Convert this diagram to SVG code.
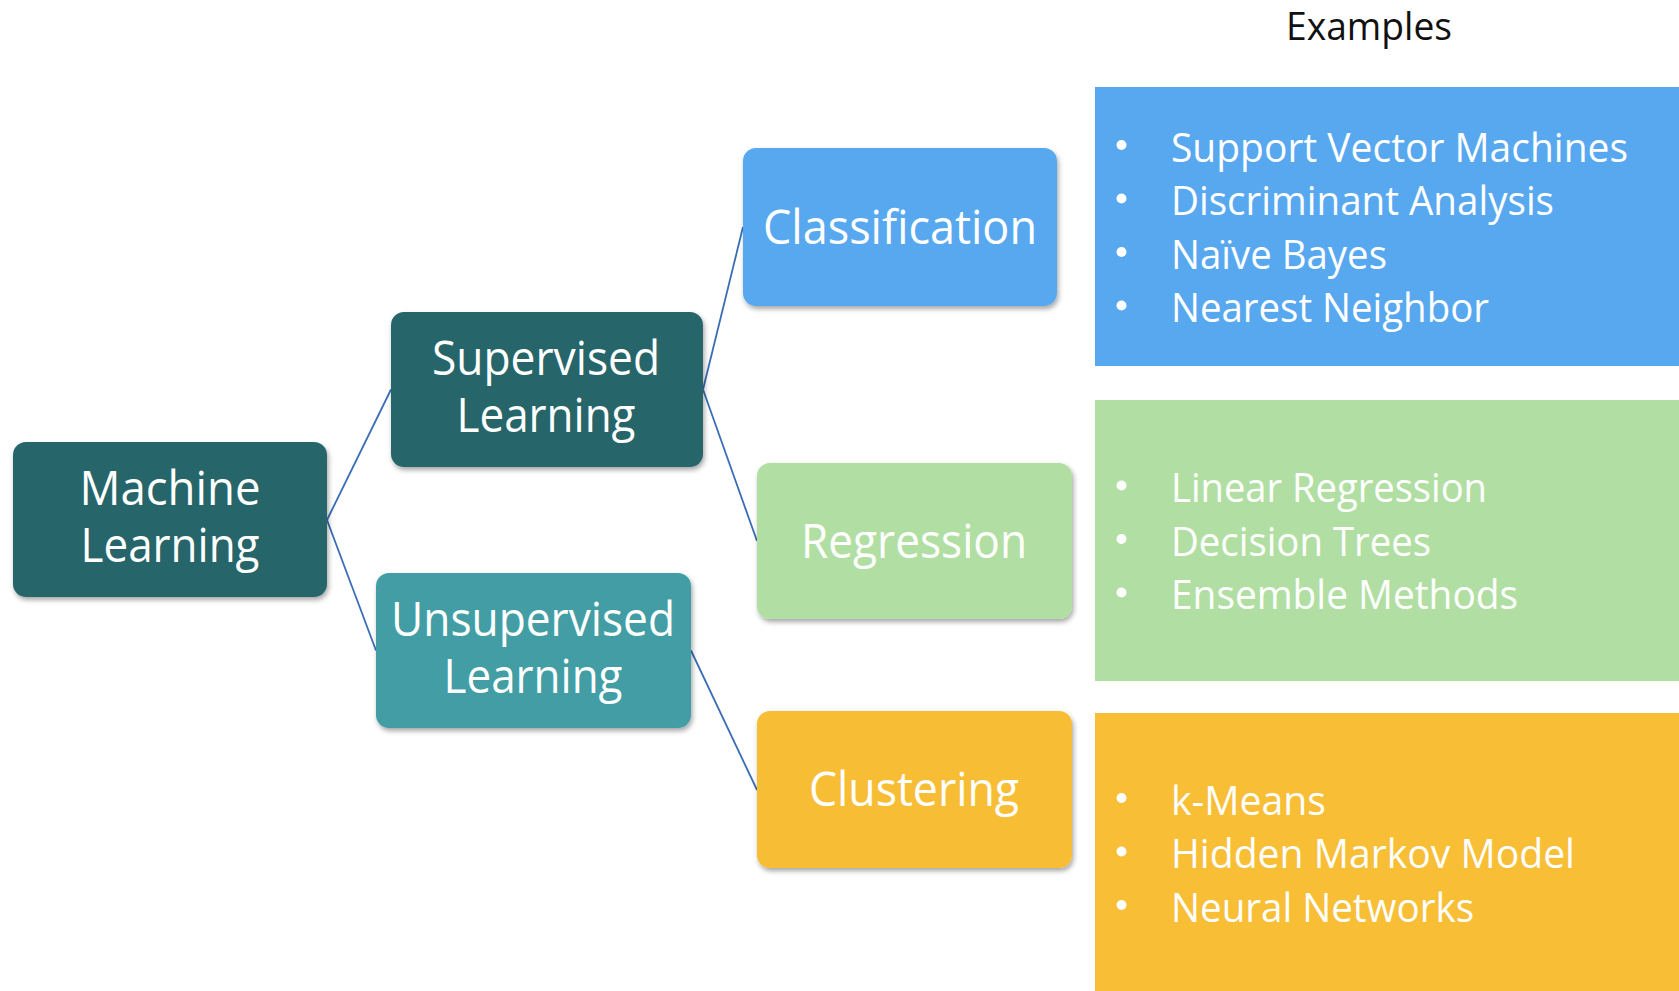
<svg xmlns="http://www.w3.org/2000/svg" width="1679" height="991" viewBox="0 0 1679 991">
  <defs>
    <filter id="shadow" x="-10%" y="-10%" width="125%" height="135%">
      <feDropShadow dx="1.5" dy="3" stdDeviation="2.5" flood-color="#000" flood-opacity="0.35"/>
    </filter>
    <style>
      .node { filter: url(#shadow); }
      .lbl { font-family: "Open Sans", "Liberation Sans", sans-serif; font-size: 48px; fill: #ffffff; text-anchor: middle; }
      .item { font-family: "Open Sans", "Liberation Sans", sans-serif; font-size: 41px; fill: #ffffff; }
      .title { font-family: "Open Sans", "Liberation Sans", sans-serif; font-size: 39px; fill: #111111; text-anchor: middle; }
      .bullet { fill: #ffffff; }
      .link { stroke: #3a6db5; stroke-width: 1.8; fill: none; }
    </style>
  </defs>

  <rect width="1679" height="991" fill="#ffffff"/>

  <!-- connectors -->
  <g id="connectors">
    <line class="link" x1="327" y1="520" x2="391" y2="389.5"/>
    <line class="link" x1="327" y1="520" x2="376" y2="650.5"/>
    <line class="link" x1="703" y1="389.5" x2="743" y2="227"/>
    <line class="link" x1="703" y1="389.5" x2="757" y2="541"/>
    <line class="link" x1="691" y1="650.5" x2="757" y2="790"/>
  </g>

  <!-- tree nodes -->
  <g id="machine-learning">
    <rect class="node" x="13" y="442" width="314" height="155" rx="13" fill="#28666b"/>
    <text class="lbl" x="170" y="505" textLength="181" lengthAdjust="spacingAndGlyphs">Machine</text>
    <text class="lbl" x="170" y="562" textLength="179" lengthAdjust="spacingAndGlyphs">Learning</text>
  </g>

  <g id="supervised">
    <rect class="node" x="391" y="312" width="312" height="155" rx="13" fill="#28666b"/>
    <text class="lbl" x="546" y="375" textLength="228" lengthAdjust="spacingAndGlyphs">Supervised</text>
    <text class="lbl" x="546" y="432" textLength="179" lengthAdjust="spacingAndGlyphs">Learning</text>
  </g>

  <g id="unsupervised">
    <rect class="node" x="376" y="573" width="315" height="155" rx="13" fill="#429ea4"/>
    <text class="lbl" x="533" y="636" textLength="284" lengthAdjust="spacingAndGlyphs">Unsupervised</text>
    <text class="lbl" x="533" y="693" textLength="179" lengthAdjust="spacingAndGlyphs">Learning</text>
  </g>

  <g id="classification">
    <rect class="node" x="743" y="148" width="314" height="158" rx="13" fill="#58a8f0"/>
    <text class="lbl" x="900" y="244" textLength="274" lengthAdjust="spacingAndGlyphs">Classification</text>
  </g>

  <g id="regression">
    <rect class="node" x="757" y="463" width="315" height="156" rx="13" fill="#b1dfa3"/>
    <text class="lbl" x="914" y="558" textLength="226" lengthAdjust="spacingAndGlyphs">Regression</text>
  </g>

  <g id="clustering">
    <rect class="node" x="757" y="711" width="315" height="157" rx="13" fill="#f7be36"/>
    <text class="lbl" x="914" y="806" textLength="210" lengthAdjust="spacingAndGlyphs">Clustering</text>
  </g>

  <!-- examples column -->
  <g id="examples-title">
    <text class="title" x="1369" y="40" textLength="166" lengthAdjust="spacingAndGlyphs">Examples</text>
  </g>

  <g id="examples-classification">
    <rect x="1095" y="87" width="584" height="279" fill="#58a8f0"/>
    <circle class="bullet" cx="1121.5" cy="145" r="5"/>
    <circle class="bullet" cx="1121.5" cy="198.5" r="5"/>
    <circle class="bullet" cx="1121.5" cy="252" r="5"/>
    <circle class="bullet" cx="1121.5" cy="305.5" r="5"/>
    <text class="item" x="1171" y="161.5" textLength="457" lengthAdjust="spacingAndGlyphs">Support Vector Machines</text>
    <text class="item" x="1171" y="215" textLength="383" lengthAdjust="spacingAndGlyphs">Discriminant Analysis</text>
    <text class="item" x="1171" y="268.5" textLength="216" lengthAdjust="spacingAndGlyphs">Naïve Bayes</text>
    <text class="item" x="1171" y="322" textLength="318" lengthAdjust="spacingAndGlyphs">Nearest Neighbor</text>
  </g>

  <g id="examples-regression">
    <rect x="1095" y="400" width="584" height="281" fill="#b1dfa3"/>
    <circle class="bullet" cx="1121.5" cy="485.5" r="5"/>
    <circle class="bullet" cx="1121.5" cy="539" r="5"/>
    <circle class="bullet" cx="1121.5" cy="592.5" r="5"/>
    <text class="item" x="1171" y="502" textLength="316" lengthAdjust="spacingAndGlyphs">Linear Regression</text>
    <text class="item" x="1171" y="555.5" textLength="260" lengthAdjust="spacingAndGlyphs">Decision Trees</text>
    <text class="item" x="1171" y="609" textLength="347" lengthAdjust="spacingAndGlyphs">Ensemble Methods</text>
  </g>

  <g id="examples-clustering">
    <rect x="1095" y="713" width="584" height="278" fill="#f7be36"/>
    <circle class="bullet" cx="1121.5" cy="798" r="5"/>
    <circle class="bullet" cx="1121.5" cy="851.5" r="5"/>
    <circle class="bullet" cx="1121.5" cy="905" r="5"/>
    <text class="item" x="1171" y="814.5" textLength="155" lengthAdjust="spacingAndGlyphs">k-Means</text>
    <text class="item" x="1171" y="868" textLength="404" lengthAdjust="spacingAndGlyphs">Hidden Markov Model</text>
    <text class="item" x="1171" y="921.5" textLength="303" lengthAdjust="spacingAndGlyphs">Neural Networks</text>
  </g>
</svg>
